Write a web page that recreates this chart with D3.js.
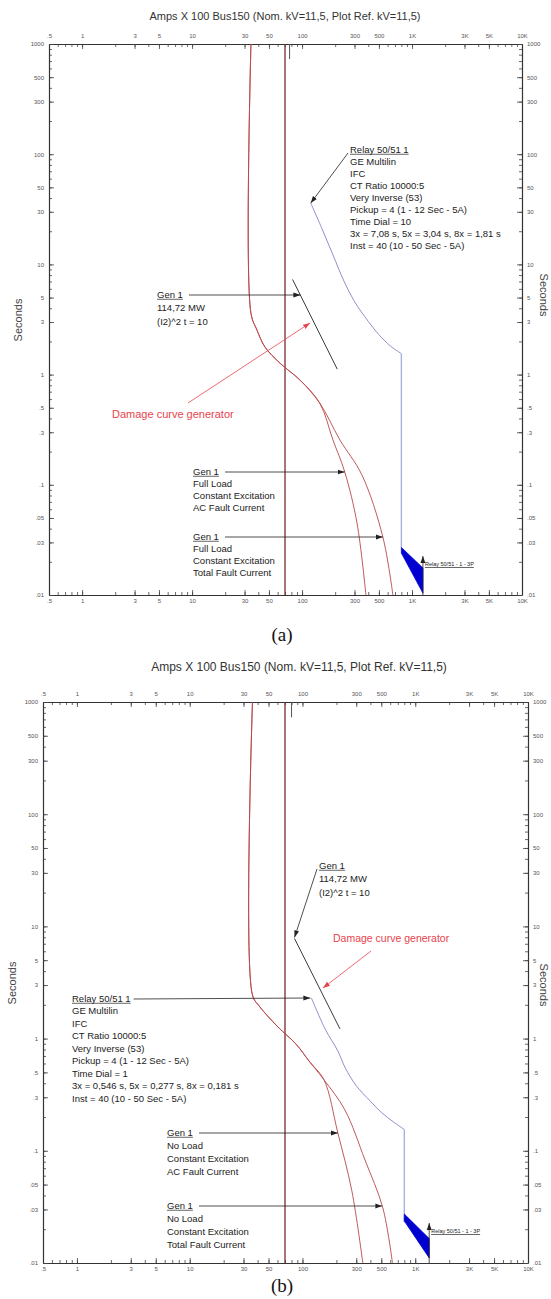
<!DOCTYPE html>
<html>
<head>
<meta charset="utf-8">
<title>Generator protection TCC</title>
<script src="https://d3js.org/d3.v7.min.js"></script>
<style>
  body { margin: 0; background: #fff; }
  svg { display: block; font-family: Arial, "Liberation Sans", sans-serif; }
</style>
</head>
<body>
<div id="container"></div>
<script>

// ******* Tick labels *******
var ampTicks = [0.5, 1, 3, 5, 10, 30, 50, 100, 300, 500, 1000, 3000, 5000, 10000];
var ampLabels = [".5", "1", "3", "5", "10", "30", "50", "100", "300", "500", "1K", "3K", "5K", "10K"];
var secTicks = [0.01, 0.03, 0.05, 0.1, 0.3, 0.5, 1, 3, 5, 10, 30, 50, 100, 300, 500, 1000];
var secLabels = [".01", ".03", ".05", ".1", ".3", ".5", "1", "3", "5", "10", "30", "50", "100", "300", "500", "1000"];
var titleText = "Amps  X  100   Bus150 (Nom. kV=11,5, Plot Ref. kV=11,5)";

// ******* Panel (a) data: [amps x 100, seconds] *******
var aDecAC = [[34.3, 1000], [34.3, 3.6], [38.9, 2.54], [46, 1.78], [63, 1.27], [96, 0.89], [145, 0.55], [191, 0.255], [245, 0.13], [316, 0.045], [381, 0.01]];
var aDecTotal = [[34.3, 1000], [34.3, 3.6], [38.9, 2.54], [46, 1.78], [63, 1.27], [96, 0.89], [145, 0.55], [221, 0.255], [350, 0.123], [543, 0.0336], [670, 0.01]];
var aRelay = [[120, 36], [152, 21], [191, 12.2], [240, 7.08], [300, 4.6], [400, 3.04], [500, 2.3], [640, 1.81], [800, 1.55]];
var aRelayInst = [[800, 1.55], [800, 0.027]];
var aRelayBand = [[800, 0.027], [1256, 0.0176], [1256, 0.0104], [800, 0.024]];
var aDamage = [[82, 7.3], [209, 1.12]];
var aFullLoad = 70;
var aTopTick = 77;
var aRelayText = ["Relay 50/51  1", "GE Multilin", "IFC", "CT Ratio 10000:5", "Very Inverse (53)",
  "Pickup = 4 (1 - 12  Sec - 5A)", "Time Dial = 10", "3x = 7,08 s, 5x = 3,04 s, 8x = 1,81 s", "Inst = 40 (10 - 50  Sec - 5A)"];
var aGenACText = ["Gen  1", "Full Load", "Constant Excitation", "AC Fault Current"];
var aGenTotalText = ["Gen  1", "Full Load", "Constant Excitation", "Total Fault Current"];

// ******* Panel (b) data *******
var bDecAC = [[36, 1000], [36, 2.45], [41, 1.97], [60.6, 1.27], [87.5, 0.895], [116, 0.62], [155, 0.43], [206, 0.144], [274, 0.044], [343, 0.01]];
var bDecTotal = [[36, 1000], [36, 2.45], [41, 1.97], [60.6, 1.27], [87.5, 0.895], [116, 0.62], [155, 0.43], [238, 0.231], [358, 0.083], [516, 0.031], [628, 0.01]];
var bRelay = [[120, 2.3], [160, 1.2], [206, 0.775], [240, 0.546], [300, 0.38], [400, 0.277], [500, 0.22], [640, 0.181], [800, 0.155]];
var bRelayInst = [[800, 0.155], [800, 0.023]];
var bRelayBand = [[800, 0.0273], [1330, 0.0165], [1330, 0.0111], [800, 0.0237]];
var bDamage = [[85, 7.8], [215, 1.22]];
var bFullLoad = 70;
var bTopTick = 80;
var bRelayText = ["Relay 50/51  1", "GE Multilin", "IFC", "CT Ratio 10000:5", "Very Inverse (53)",
  "Pickup = 4 (1 - 12  Sec - 5A)", "Time Dial = 1", "3x = 0,546 s, 5x = 0,277 s, 8x = 0,181 s", "Inst = 40 (10 - 50  Sec - 5A)"];
var bGenACText = ["Gen  1", "No Load", "Constant Excitation", "AC Fault Current"];
var bGenTotalText = ["Gen  1", "No Load", "Constant Excitation", "Total Fault Current"];

var damageText = ["Gen  1", "114,72 MW", "(I2)^2 t = 10"];
var bandText = "Relay 50/51 - 1 - 3P";
var redText = "Damage curve generator";

// ******* Constants *******
const width = 551, height = 1299;
const decColor = "#b8474a", flaColor = "#7a2b2e", relayColor = "#8f8fcc",
      bandColor = "#0000d0", redColor = "#e8434d", inkColor = "#222";

var svg = d3.select("#container").append("svg")
  .attr("width", width)
  .attr("height", height);
svg.append("rect").attr("width", width).attr("height", height).attr("fill", "#fff");

var defs = svg.append("defs");
function addMarker(id, color) {
  defs.append("marker")
    .attr("id", id)
    .attr("viewBox", "0 0 10 10")
    .attr("refX", 10).attr("refY", 5)
    .attr("markerUnits", "userSpaceOnUse")
    .attr("markerWidth", 7).attr("markerHeight", 7)
    .attr("orient", "auto")
    .append("path").attr("d", "M0,1.5L10,5L0,8.5Z").attr("fill", color);
}
addMarker("arrK", inkColor);
addMarker("arrR", redColor);

// minor ticks 1..9 per decade
var minorAmps = [], minorSecs = [];
for (var e = -1; e <= 4; e++) {
  for (var k = 1; k <= 9; k++) {
    var v = k * Math.pow(10, e);
    if (v >= 0.5 && v <= 10000) minorAmps.push(v);
  }
}
for (var e2 = -2; e2 <= 3; e2++) {
  for (var k2 = 1; k2 <= 9; k2++) {
    var s = k2 * Math.pow(10, e2);
    if (s <= 1000) minorSecs.push(s);
  }
}

// text block, first line underlined
function textBlock(g, x0, y0, lines, step, size) {
  lines.forEach(function (t, i) {
    var txt = g.append("text")
      .attr("x", x0).attr("y", y0 + i * step)
      .attr("font-size", size).attr("fill", inkColor)
      .attr("dominant-baseline", "middle")
      .text(t);
    if (i == 0) {
      var w = txt.node().getComputedTextLength();
      g.append("line")
        .attr("x1", x0).attr("x2", x0 + w)
        .attr("y1", y0 + size * 0.45).attr("y2", y0 + size * 0.45)
        .attr("stroke", inkColor).attr("stroke-width", 0.7);
    }
  });
}

// x position where a drawn path reaches a given y (paths run top to bottom)
function xAtY(path, yv) {
  var node = path.node(), L = node.getTotalLength();
  for (var l = 0; l <= L; l += 0.25) {
    var p = node.getPointAtLength(l);
    if (p.y >= yv) return p.x;
  }
  return node.getPointAtLength(L).x;
}

function arrow(g, x1, y1, x2, y2, color, marker) {
  g.append("line")
    .attr("x1", x1).attr("y1", y1).attr("x2", x2).attr("y2", y2)
    .attr("stroke", color).attr("stroke-width", 0.8)
    .attr("marker-end", "url(#" + marker + ")");
}

function drawPanel(p, d) {
  var x = d3.scaleLog().domain([0.5, 10000]).range([p.left, p.right]);
  var y = d3.scaleLog().domain([0.01, 1000]).range([p.bottom, p.top]);
  var g = svg.append("g");

  var line = d3.line().x(function (q) { return x(q[0]); }).y(function (q) { return y(q[1]); });
  var smooth = d3.line().x(function (q) { return x(q[0]); }).y(function (q) { return y(q[1]); })
    .curve(d3.curveCatmullRom.alpha(0.5));

  // ******* Title and axis captions *******
  g.append("text")
    .attr("x", p.titleX).attr("y", p.titleY)
    .attr("text-anchor", "middle").attr("font-size", p.titleSize).attr("fill", "#333")
    .text(titleText);
  g.append("text")
    .attr("transform", "translate(" + p.secX + "," + p.secY + ") rotate(-90)")
    .attr("text-anchor", "middle").attr("font-size", 11).attr("fill", "#444")
    .text("Seconds");
  g.append("text")
    .attr("transform", "translate(" + p.secRX + "," + p.secRY + ") rotate(90)")
    .attr("text-anchor", "middle").attr("font-size", 11).attr("fill", "#444")
    .text("Seconds");
  g.append("text")
    .attr("x", p.capX).attr("y", p.capY)
    .attr("text-anchor", "middle")
    .attr("font-family", "'Liberation Serif', 'Times New Roman', serif")
    .attr("font-size", 19).attr("fill", "#111")
    .text(p.caption);

  // ******* Axes *******
  var axes = [
    [d3.axisTop, x, minorAmps, ampTicks, ampLabels, "translate(0," + p.top + ")", 6],
    [d3.axisBottom, x, minorAmps, ampTicks, ampLabels, "translate(0," + p.bottom + ")", 4],
    [d3.axisLeft, y, minorSecs, secTicks, secLabels, "translate(" + p.left + ",0)", 5],
    [d3.axisRight, y, minorSecs, secTicks, secLabels, "translate(" + p.right + ",0)", 5]
  ];
  axes.forEach(function (a) {
    var minor = g.append("g").attr("transform", a[5])
      .call(a[0](a[1]).tickValues(a[2]).tickSize(-3).tickSizeOuter(0).tickFormat(""));
    minor.select(".domain").remove();
    var major = g.append("g").attr("transform", a[5])
      .call(a[0](a[1]).tickValues(a[3]).tickSize(-5).tickSizeOuter(0).tickPadding(a[6])
        .tickFormat(function (t, i) { return a[4][i]; }));
    major.select(".domain").attr("stroke", "#333").attr("stroke-width", 1.2);
    major.selectAll("text").attr("font-size", 6).attr("fill", "#555");
    g.selectAll(".tick line").attr("stroke", "#444").attr("stroke-width", 0.8);
  });

  // ******* Curves *******
  g.append("line")
    .attr("x1", x(d.fla)).attr("x2", x(d.fla))
    .attr("y1", y(1000)).attr("y2", y(0.01))
    .attr("stroke", flaColor).attr("stroke-width", 1.3);
  g.append("line")
    .attr("x1", x(d.topTick)).attr("x2", x(d.topTick))
    .attr("y1", y(1000)).attr("y2", y(730))
    .attr("stroke", "#555").attr("stroke-width", 1);

  var total = g.append("path").attr("d", smooth(d.decTotal))
    .attr("fill", "none").attr("stroke", decColor).attr("stroke-width", 0.9);
  var ac = g.append("path").attr("d", smooth(d.decAC))
    .attr("fill", "none").attr("stroke", decColor).attr("stroke-width", 0.9);

  g.append("path").attr("d", smooth(d.relay))
    .attr("fill", "none").attr("stroke", relayColor).attr("stroke-width", 1);
  g.append("path").attr("d", line(d.relayInst))
    .attr("fill", "none").attr("stroke", "#aab0e0").attr("stroke-width", 1.4);
  g.append("path").attr("d", line(d.band) + "Z")
    .attr("fill", bandColor).attr("stroke", bandColor).attr("stroke-width", 0.8);

  var dmg = g.append("path").attr("d", line(d.damage))
    .attr("fill", "none").attr("stroke", "#3a3a3a").attr("stroke-width", 1);

  // ******* Annotations *******
  var fs = 9.5;
  // relay label
  textBlock(g, p.relayX, p.relayY, d.relayText, p.relayStep, fs);
  if (p.relayLeader == "diag") {
    arrow(g, p.relayX - 2, p.relayY + 3, x(d.relay[0][0]), y(d.relay[0][1]), inkColor, "arrK");
  } else {
    var rw = g.selectAll("text").filter(function () { return this.textContent == d.relayText[0]; }).node().getComputedTextLength();
    arrow(g, p.relayX + rw + 3, p.relayY, x(d.relay[0][0]) - 1, y(d.relay[0][1]), inkColor, "arrK");
  }

  // damage curve label
  textBlock(g, p.dmgX, p.dmgY, damageText, p.dmgStep, fs);
  if (p.dmgLeader == "side") {
    arrow(g, p.dmgX + 32, p.dmgY, xAtY(dmg, p.dmgY), p.dmgY, inkColor, "arrK");
  } else {
    arrow(g, p.dmgX - 2, p.dmgY + 3, x(d.damage[0][0]), y(d.damage[0][1]) - 1, inkColor, "arrK");
  }

  // red callout
  g.append("text")
    .attr("x", p.redX).attr("y", p.redY)
    .attr("font-size", p.redSize).attr("fill", redColor)
    .attr("dominant-baseline", "middle")
    .text(redText);
  arrow(g, p.redA[0], p.redA[1], p.redA[2], p.redA[3], redColor, "arrR");

  // generator decrement labels
  textBlock(g, p.genX, p.genACY, d.genACText, p.genStep, fs);
  arrow(g, p.genX + 32, p.genACY, xAtY(ac, p.genACY), p.genACY, inkColor, "arrK");
  textBlock(g, p.genX, p.genTotY, d.genTotalText, p.genStep, fs);
  arrow(g, p.genX + 32, p.genTotY, xAtY(total, p.genTotY), p.genTotY, inkColor, "arrK");

  // relay instantaneous band label
  var bx = x(d.band[1][0]);
  arrow(g, bx, y(0.01), bx, p.bandY - 9, inkColor, "arrK");
  textBlock(g, bx + 2, p.bandY, [bandText], 10, 5.5);
}

drawPanel({
  left: 49, right: 522, top: 44, bottom: 595,
  titleX: 285, titleY: 20, titleSize: 11,
  secX: 22, secY: 320, secRX: 540, secRY: 295,
  capX: 282, capY: 641, caption: "(a)",
  relayX: 350, relayY: 150, relayStep: 12, relayLeader: "diag",
  dmgX: 157, dmgY: 295, dmgStep: 13.5, dmgLeader: "side",
  redX: 112, redY: 415, redSize: 11, redA: [188, 403, 310, 323],
  genX: 193, genACY: 472, genTotY: 537, genStep: 12.2,
  bandY: 565
}, {
  decAC: aDecAC, decTotal: aDecTotal, relay: aRelay, relayInst: aRelayInst, band: aRelayBand,
  damage: aDamage, fla: aFullLoad, topTick: aTopTick,
  relayText: aRelayText, genACText: aGenACText, genTotalText: aGenTotalText
});

drawPanel({
  left: 43, right: 528, top: 702, bottom: 1263,
  titleX: 299, titleY: 671, titleSize: 12,
  secX: 16, secY: 983, secRX: 540, secRY: 985,
  capX: 282, capY: 1292, caption: "(b)",
  relayX: 72, relayY: 999, relayStep: 12.5, relayLeader: "side",
  dmgX: 319, dmgY: 866, dmgStep: 13.5, dmgLeader: "diag",
  redX: 333, redY: 939, redSize: 10.5, redA: [371, 951, 323, 988],
  genX: 167, genACY: 1133, genTotY: 1206, genStep: 13.3,
  bandY: 1232
}, {
  decAC: bDecAC, decTotal: bDecTotal, relay: bRelay, relayInst: bRelayInst, band: bRelayBand,
  damage: bDamage, fla: bFullLoad, topTick: bTopTick,
  relayText: bRelayText, genACText: bGenACText, genTotalText: bGenTotalText
});

</script>
</body>
</html>
